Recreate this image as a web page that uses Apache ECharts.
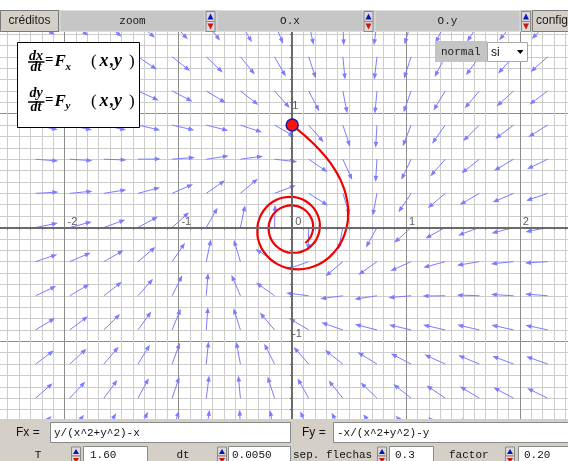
<!DOCTYPE html>
<html><head><meta charset="utf-8">
<script src="https://cdn.jsdelivr.net/npm/echarts@6/dist/echarts.min.js"></script>
<style>html,body{margin:0;padding:0;background:#fff}#c{width:568px;height:461px}</style>
</head><body><div id="c"></div><script>
// ---- chart content ----
const fxText = 'y/(x^2+y^2)-x';
const fyText = '-x/(x^2+y^2)-y';
const paramT = '1.60';
const paramDt = '0.0050';
const paramSep = '0.3';
const paramFactor = '0.20';
const toolbarLabels = ['créditos', 'zoom', 'O.x', 'O.y', 'config'];
const selectLabel = 'normal';
const selectValue = 'si';

// tick labels
const xTickValues = [-2, -1, 0, 1, 2];
const yTickValues = [-1, 1];

// arrow tails (spacing 0.3)
const arrowColumns = [-2.255, -1.955, -1.655, -1.355, -1.055, -0.755, -0.455, -0.155, 0.145, 0.445, 0.745, 1.045, 1.345, 1.645, 1.945, 2.245];
const arrowRows = [-1.8, -1.5, -1.2, -0.9, -0.6, -0.3, 0, 0.3, 0.6, 0.9, 1.2, 1.5, 1.8];
const arrowLength = 0.20;

// trajectory, read in polar form: swept angle (clockwise from +y) and radius
const trajPhi = [0, 0.05, 0.1, 0.15, 0.2, 0.3, 0.4, 0.5, 0.6, 0.7, 0.8, 0.9, 1.0, 1.2, 1.4, 1.6, 1.8, 2.0, 2.25, 2.5, 2.75, 3.0, 3.25, 3.5, 3.75, 4.0, 4.25, 4.5, 4.75, 5.0, 5.25, 5.5, 5.75, 6.0, 6.25, 6.5, 6.75, 7.0, 7.25, 7.5, 7.75, 8.0, 8.25, 8.5, 8.75, 9.0, 9.25, 9.5, 9.75, 10.0, 10.25, 10.5, 10.75, 11.0, 11.25, 11.5, 11.75, 12.0, 12.25, 12.5, 12.75, 13.0, 13.25, 13.5, 13.75, 14.0, 14.25, 14.5, 14.75, 15.0];
const trajR = [0.9, 0.8656, 0.8349, 0.8072, 0.7821, 0.7383, 0.7011, 0.6690, 0.6409, 0.6161, 0.5940, 0.5741, 0.5560, 0.5245, 0.4978, 0.4749, 0.4548, 0.4371, 0.4176, 0.4005, 0.3853, 0.3718, 0.3596, 0.3485, 0.3384, 0.3291, 0.3205, 0.3126, 0.3052, 0.2983, 0.2919, 0.2859, 0.2802, 0.2749, 0.2698, 0.2650, 0.2605, 0.2562, 0.2521, 0.2482, 0.2445, 0.2409, 0.2375, 0.2342, 0.2310, 0.2280, 0.2251, 0.2223, 0.2196, 0.2170, 0.2145, 0.2121, 0.2097, 0.2075, 0.2053, 0.2031, 0.2011, 0.1991, 0.1971, 0.1952, 0.1934, 0.1916, 0.1899, 0.1882, 0.1866, 0.1849, 0.1834, 0.1819, 0.1804, 0.1789];
const startPoint = [0, 0.9];

// ---- field as displayed (Fx, Fy) ----
function fieldFx(x, y) { return y / (x * x + y * y) - x; }
function fieldFy(x, y) { return -x / (x * x + y * y) - y; }

const arrowData = [];
arrowColumns.forEach(function (x) {
  arrowRows.forEach(function (y) {
    const fx = fieldFx(x, y), fy = fieldFy(x, y);
    const m = Math.hypot(fx, fy) || 1;
    arrowData.push([x, y, fx / m, fy / m]);
  });
});
const trajData = trajPhi.map(function (p, i) { return [trajR[i] * Math.sin(p), trajR[i] * Math.cos(p)]; });
const xLabelData = xTickValues.map(function (v) { return [v, 0]; });
const yLabelData = yTickValues.map(function (v) { return [0, v]; });

// ---- styles ----
const ARROW = '#7c7cff';
const FINE = '#cdcdcd', MAJOR = '#8c8c8c';
const splitColors = [MAJOR, FINE, FINE, FINE, FINE, FINE, FINE, FINE, FINE, FINE];
const MONO = '11px "Liberation Mono"';
const SANS = '12px "Liberation Sans"';

const G = [];
function rect(x, y, w, h, fill, stroke) { G.push({ type: 'rect', shape: { x: x, y: y, width: w, height: h }, style: { fill: fill, stroke: stroke || null, lineWidth: 1 } }); }
function text(t, x, y, font, align, fill) { G.push({ type: 'text', x: x, y: y, style: { text: t, font: font, fill: fill || '#1a1a1a', align: align || 'left', verticalAlign: 'middle' } }); }
function spinner(x, y, w, h) {
  const hh = h / 2;
  rect(x + 0.5, y + 0.5, w, hh, '#dcdad5', '#8a8a8a');
  rect(x + 0.5, y + hh + 0.5, w, hh, '#dcdad5', '#8a8a8a');
  G.push({ type: 'polygon', shape: { points: [[x + w / 2 + 0.5, y + 2.5], [x + 2, y + hh - 1.5], [x + w - 1, y + hh - 1.5]] }, style: { fill: '#1010c8' } });
  G.push({ type: 'polygon', shape: { points: [[x + 2, y + hh + 2.5], [x + w - 1, y + hh + 2.5], [x + w / 2 + 0.5, y + h - 1.5]] }, style: { fill: '#d81010' } });
}

// top band + toolbar
rect(0, 0, 568, 10, '#ffffff');
rect(0, 10, 568, 22, '#c8c8c8');
rect(0.5, 10.5, 58, 21, '#d4d0c8', '#7a7a7a');
text(toolbarLabels[0], 29.5, 21, SANS, 'center');
rect(60, 10.5, 145, 21, '#c6c6c6', '#dedede');
text(toolbarLabels[1], 132.5, 21, MONO, 'center');
spinner(205.5, 11, 9, 20);
rect(217, 10.5, 146, 21, '#c6c6c6', '#dedede');
text(toolbarLabels[2], 290, 21, MONO, 'center');
spinner(363.5, 11, 9, 20);
rect(375, 10.5, 145, 21, '#c6c6c6', '#dedede');
text(toolbarLabels[3], 447.5, 21, MONO, 'center');
spinner(521, 11, 9, 20);
rect(532.5, 10.5, 40, 21, '#d4d0c8', '#7a7a7a');
text(toolbarLabels[4], 536, 21, SANS, 'left');

// formula box
rect(17.5, 42.5, 122, 85, '#ffffff', '#000000');
const SMALL_BI = 'bold italic 14px "Liberation Serif"';
[[0, 'x', 'x', 56.1, 67], [40, 'y', 'y', 92.9, 105.9]].forEach(function (r) {
  const o = r[0];
  text('d' + r[1], 36, r[3], SMALL_BI, 'center', '#000');
  G.push({ type: 'line', shape: { x1: 28, y1: 62 + o, x2: 44.5, y2: 62 + o }, style: { stroke: '#000', lineWidth: 1.5 } });
  text('dt', 36, 66.9 + o, SMALL_BI, 'center', '#000');
  text('=', 49.3, 60.5 + o, 'bold 15px "Liberation Serif"', 'center', '#000');
  text('F', 54.5, 61.4 + o, 'bold italic 17px "Liberation Serif"', 'left', '#000');
  text(r[2], 65.5, r[4], 'bold italic 11px "Liberation Serif"', 'left', '#000');
  text('(', 91, 61.4 + o, '17px "Liberation Serif"', 'left', '#000');
  text('x', 99.5, 61.4 + o, 'bold italic 18px "Liberation Serif"', 'left', '#000');
  text(',', 110, 61.4 + o, 'bold italic 17px "Liberation Serif"', 'left', '#000');
  text('y', 114, 61.4 + o, 'bold italic 18px "Liberation Serif"', 'left', '#000');
  text(')', 129, 61.4 + o, '17px "Liberation Serif"', 'left', '#000');
});

// normal / si selector
rect(435, 41, 52, 21, '#c4c4c4');
text(selectLabel, 441, 52, MONO, 'left', '#222');
rect(487.5, 42.5, 40, 19, '#ffffff', '#a8a8a8');
text(selectValue, 491, 52.5, SANS, 'left', '#111');
G.push({ type: 'polygon', shape: { points: [[517, 50], [523.5, 50], [520.25, 54]] }, style: { fill: '#000' } });

// bottom panel
rect(0, 419, 568, 42, '#d4d0c8');
text('Fx =', 16, 433, SANS, 'left', '#111');
rect(50.5, 422.5, 240, 20, '#ffffff', '#8a8a8a');
text(fxText, 54, 433, MONO, 'left', '#111');
text('Fy =', 302, 433, SANS, 'left', '#111');
rect(333.5, 422.5, 240, 20, '#ffffff', '#8a8a8a');
text(fyText, 337, 433, MONO, 'left', '#111');
text('T', 38, 455, MONO, 'center', '#111');
spinner(71, 446.5, 9, 18);
rect(83.5, 446.5, 64, 20, '#ffffff', '#8a8a8a');
text(paramT, 90, 455, MONO, 'left', '#111');
text('dt', 183, 455, MONO, 'center', '#111');
spinner(217, 446.5, 9, 18);
rect(228.5, 446.5, 62, 20, '#ffffff', '#8a8a8a');
text(paramDt, 232, 455, MONO, 'left', '#111');
text('sep. flechas', 293, 455, MONO, 'left', '#111');
spinner(377, 446.5, 9, 18);
rect(389.5, 446.5, 44, 20, '#ffffff', '#8a8a8a');
text(paramSep, 395, 455, MONO, 'left', '#111');
text('factor', 449, 455, MONO, 'left', '#111');
spinner(505, 446.5, 9, 18);
rect(518.5, 446.5, 55, 20, '#ffffff', '#8a8a8a');
text(paramFactor, 524, 455, MONO, 'left', '#111');

G.forEach(function (e) { e.z = 100; e.silent = true; });

// ---- chart ----
const chart = echarts.init(document.getElementById('c'), null, { renderer: 'canvas' });
const tickLabelStyle = { show: true, color: '#333', fontSize: 11, fontFamily: 'Liberation Sans', align: 'left', verticalAlign: 'bottom' };
chart.setOption({
  animation: false,
  backgroundColor: '#ffffff',
  grid: { left: -49.2, right: -65.6, top: -0.1, bottom: -107.9, containLabel: false, outerBoundsMode: 'none' },
  xAxis: {
    type: 'value', min: -3, max: 3, interval: 0.1,
    axisLine: { show: true, onZero: true, lineStyle: { color: '#6a6a6a', width: 2 } },
    axisTick: { show: true, length: 2, lineStyle: { color: '#555' } },
    splitLine: { show: true, lineStyle: { color: splitColors, width: 1 } },
    axisLabel: { show: false }
  },
  yAxis: {
    type: 'value', min: -3, max: 2, interval: 0.1,
    axisLine: { show: true, onZero: true, lineStyle: { color: '#6a6a6a', width: 2 } },
    axisTick: { show: true, length: 2, lineStyle: { color: '#555' } },
    splitLine: { show: true, lineStyle: { color: splitColors, width: 1 } },
    axisLabel: { show: false }
  },
  series: [
    {
      type: 'line', data: [[0, 0]], showSymbol: false, silent: true, z: 1,
      lineStyle: { width: 0 },
      markLine: {
        silent: true, symbol: ['none', 'none'], label: { show: false },
        lineStyle: { color: '#6a6a6a', width: 2, type: 'solid' },
        data: [{ xAxis: 0 }, { yAxis: 0 }]
      }
    },
    {
      type: 'scatter', data: xLabelData, symbolSize: 0, silent: true, z: 2,
      label: Object.assign({ position: [3, 0], formatter: function (p) { return String(p.value[0]); } }, tickLabelStyle)
    },
    {
      type: 'scatter', data: yLabelData, symbolSize: 0, silent: true, z: 2,
      label: Object.assign({ position: [0, -2], formatter: function (p) { return String(p.value[1]); } }, tickLabelStyle)
    },
    {
      type: 'custom', z: 3, silent: true,
      encode: { x: 0, y: 1 },
      data: arrowData,
      renderItem: function (params, api) {
        const x = api.value(0), y = api.value(1), ux = api.value(2), uy = api.value(3);
        const p0 = api.coord([x, y]);
        const p1 = api.coord([x + arrowLength * ux, y + arrowLength * uy]);
        const dx = p1[0] - p0[0], dy = p1[1] - p0[1];
        const L = Math.hypot(dx, dy) || 1;
        const ex = dx / L, ey = dy / L, h = 6, w = 2.3;
        const bx = p1[0] - ex * h, by = p1[1] - ey * h;
        return {
          type: 'group', children: [
            { type: 'line', shape: { x1: p0[0], y1: p0[1], x2: bx + ex, y2: by + ey }, style: { stroke: ARROW, lineWidth: 1 } },
            { type: 'polygon', shape: { points: [[p1[0], p1[1]], [bx - ey * w, by + ex * w], [bx + ey * w, by - ex * w]] }, style: { fill: ARROW } }
          ]
        };
      }
    },
    {
      type: 'line', data: trajData, z: 4, silent: true, smooth: 0.3,
      showSymbol: false, lineStyle: { color: '#f00000', width: 2.2 }
    },
    {
      type: 'scatter', data: [startPoint], z: 5, silent: true,
      symbol: 'circle', symbolSize: 12,
      itemStyle: { color: '#ff1010', borderColor: '#1a1aa8', borderWidth: 1.5, opacity: 1 }
    }
  ],
  graphic: { elements: G }
});
</script></body></html>
